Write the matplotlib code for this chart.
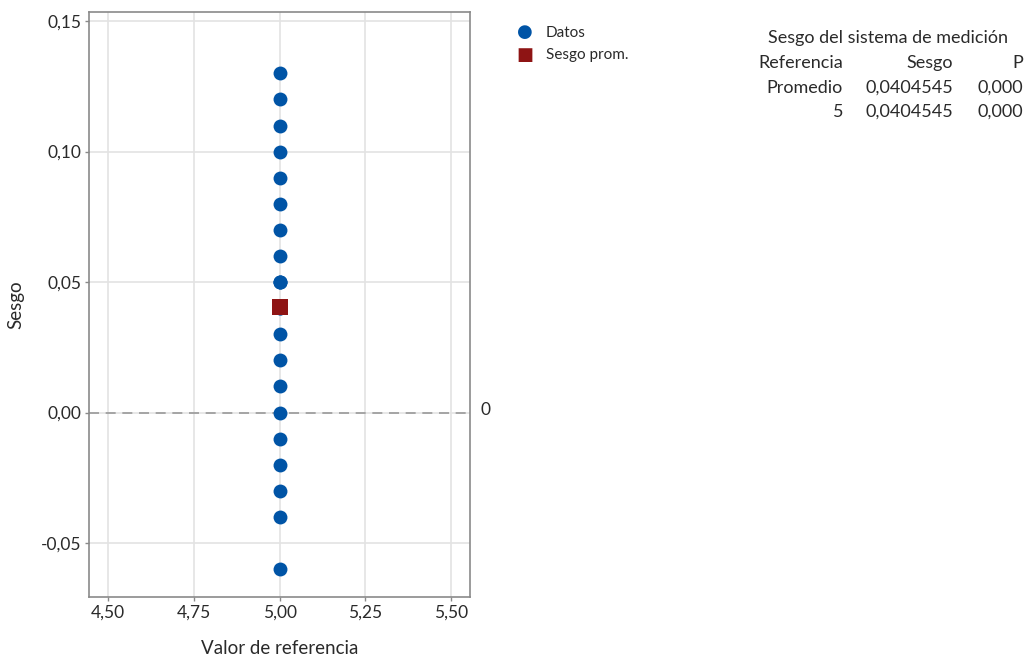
import matplotlib
matplotlib.use("Agg")
import matplotlib.pyplot as plt
from matplotlib.transforms import offset_copy
import numpy as np

# Bias observations at reference value 5
reference = [5.0] * 22
bias = [0.13, 0.12, 0.11, 0.10, 0.09, 0.08, 0.07, 0.06, 0.05, 0.05, 0.05,
        0.04, 0.04, 0.03, 0.02, 0.01, 0.00, -0.01, -0.02, -0.03, -0.04, -0.06]
mean_bias = 0.0404545

x_ticks = [4.50, 4.75, 5.00, 5.25, 5.50]
y_ticks = [-0.05, 0.00, 0.05, 0.10, 0.15]

table_title = "Sesgo del sistema de medición"
table_header = ["Referencia", "Sesgo", "P"]
table_rows = [["Promedio", "0,0404545", "0,000"],
              ["5", "0,0404545", "0,000"]]

plt.rcParams['font.family'] = ['Lato', 'DejaVu Sans']

blue = "#0054A6"
red = "#8E1414"
text_col = "#2a2a2a"

fig = plt.figure(figsize=(10.28, 6.6), dpi=100)
ax = fig.add_axes([89/1028, 1 - 597/660, (470-89)/1028, (597-12)/660])

ax.set_xlim(4.4446, 5.555)
ax.set_ylim(-0.0707, 0.1535)
ax.set_xticks(x_ticks)
ax.set_yticks(y_ticks)
ax.set_xticklabels([f"{v:.2f}".replace(".", ",") for v in x_ticks])
ax.set_yticklabels([f"{v:.2f}".replace(".", ",") for v in y_ticks])
ax.grid(True, color="#e3e3e3", linewidth=1.2)
ax.set_axisbelow(True)
for s in ax.spines.values():
    s.set_color("#8a8a8a")
    s.set_linewidth(1.2)
ax.tick_params(axis="both", colors="#8a8a8a", labelcolor=text_col,
               labelsize=12.5, length=3, width=1, pad=2.5)

ax.axhline(0, color="#999999", linestyle=(0, (6, 4)), linewidth=1.2, zorder=1)
ax.text(1.04, 0, "0", ha="center", va="center", fontsize=12.5, color=text_col,
        transform=offset_copy(ax.get_yaxis_transform(), fig=fig, y=3, units="dots"))

ax.scatter(reference, bias, s=100, color=blue, zorder=3, linewidths=0)
ax.scatter([5.0], [mean_bias], s=125, marker="s", color=red, zorder=4, linewidths=0)

ax.set_xlabel("Valor de referencia", fontsize=13.5, color=text_col, labelpad=14)
ax.set_ylabel("Sesgo", fontsize=13.5, color=text_col, labelpad=12)

# Legend
fig.text(525/1028, 1 - 32/660, "●", fontsize=13, color=blue, ha="center", va="center",
         family="DejaVu Sans")
fig.text(546/1028, 1 - 33/660, "Datos", fontsize=11, color=text_col, ha="left", va="center")
fig.text(525/1028, 1 - 55/660, "■", fontsize=13, color=red, ha="center", va="center",
         family="DejaVu Sans")
fig.text(546/1028, 1 - 55/660, "Sesgo prom.", fontsize=11, color=text_col, ha="left", va="center")

# Summary table
fig.text(888/1028, 1 - 38/660, table_title, fontsize=13, color=text_col, ha="center", va="center")
col_right = [843, 953, 1023]
row_y = [63, 88, 112]
for xr, h in zip(col_right, table_header):
    fig.text(xr/1028, 1 - row_y[0]/660, h, fontsize=13, color=text_col, ha="right", va="center")
for yr, row in zip(row_y[1:], table_rows):
    for xr, cell in zip(col_right, row):
        fig.text(xr/1028, 1 - yr/660, cell, fontsize=13, color=text_col, ha="right", va="center")

fig.savefig("out.png", dpi=100)
